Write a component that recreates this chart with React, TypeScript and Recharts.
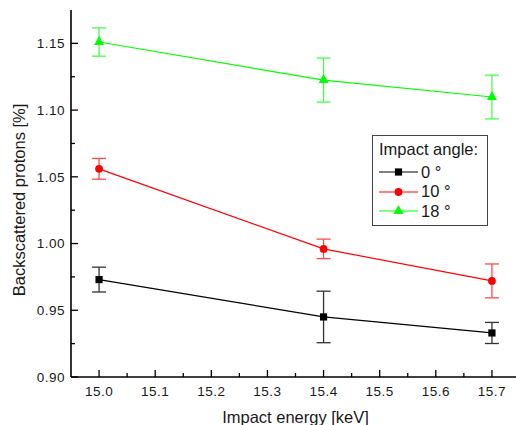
import React from 'react';
import { ComposedChart, Line, XAxis, YAxis, ErrorBar, Legend, Label } from 'recharts';

// Backscattered proton fraction vs. impact energy for three impact angles
const energies = [15.0, 15.4, 15.7];

const angle0 = [0.973, 0.945, 0.933];
const angle0Err = [0.0093, 0.0193, 0.0079];

const angle10 = [1.056, 0.996, 0.972];
const angle10Err = [0.0078, 0.0073, 0.0127];

const angle18 = [1.151, 1.1225, 1.1098];
const angle18Err = [0.0106, 0.0165, 0.0164];

const xMajorTicks = [15.0, 15.1, 15.2, 15.3, 15.4, 15.5, 15.6, 15.7];
const xMinorTicks = [15.05, 15.15, 15.25, 15.35, 15.45, 15.55, 15.65];
const yMajorTicks = [0.9, 0.95, 1.0, 1.05, 1.1, 1.15];
const yMinorTicks = [0.925, 0.975, 1.025, 1.075, 1.125];

const seriesNames = ['0 °', '10 °', '18 °'];
const seriesColors = ['#000000', '#ff0000', '#00ff00'];
const errorColors = ['#333333', '#ff4a4a', '#44ff44'];

const data = energies.map((energy, i) => ({
  energy,
  a0: angle0[i],
  a0Err: angle0Err[i],
  a10: angle10[i],
  a10Err: angle10Err[i],
  a18: angle18[i],
  a18Err: angle18Err[i],
}));

const FONT = '"Liberation Sans", Arial, Helvetica, sans-serif';
const MAJOR_LEN = 7;
const MINOR_LEN = 4;

const isMajor = (v: number, majors: number[]) => majors.some((m) => Math.abs(m - v) < 1e-6);

const tickText = {
  fontFamily: FONT,
  fontSize: 13.5,
  letterSpacing: 0.5,
  fill: '#1a1a1a',
};

const BottomTick = (props: any) => {
  const { x, y, payload } = props;
  const major = isMajor(payload.value, xMajorTicks);
  return (
    <g>
      <line x1={x} y1={y} x2={x} y2={y - (major ? MAJOR_LEN : MINOR_LEN)} stroke="#000" strokeWidth={1.3} />
      {major && (
        <text x={x} y={y + 19} textAnchor="middle" style={tickText}>
          {Number(payload.value).toFixed(1)}
        </text>
      )}
    </g>
  );
};

const TopTick = (props: any) => {
  const { x, y, payload } = props;
  const major = isMajor(payload.value, xMajorTicks);
  return <line x1={x} y1={y} x2={x} y2={y + (major ? MAJOR_LEN : MINOR_LEN)} stroke="#000" strokeWidth={1.3} />;
};

const LeftTick = (props: any) => {
  const { x, y, payload } = props;
  const major = isMajor(payload.value, yMajorTicks);
  return (
    <g>
      <line x1={x} y1={y} x2={x + (major ? MAJOR_LEN : MINOR_LEN)} y2={y} stroke="#000" strokeWidth={1.3} />
      {major && (
        <text x={x - 6} y={y} dy="0.36em" textAnchor="end" style={tickText}>
          {Number(payload.value).toFixed(2)}
        </text>
      )}
    </g>
  );
};

const RightTick = (props: any) => {
  const { x, y, payload } = props;
  const major = isMajor(payload.value, yMajorTicks);
  return <line x1={x} y1={y} x2={x - (major ? MAJOR_LEN : MINOR_LEN)} y2={y} stroke="#000" strokeWidth={1.3} />;
};

const titleStyle = { fontFamily: FONT, fontSize: 16.5, fill: '#1a1a1a' };

const XTitle = (props: any) => {
  const { viewBox } = props;
  const cx = viewBox.x + viewBox.width / 2;
  return (
    <text x={cx} y={viewBox.y + 45.5} textAnchor="middle" style={titleStyle}>
      Impact energy [keV]
    </text>
  );
};

const YTitle = (props: any) => {
  const { viewBox } = props;
  const cx = viewBox.x + 7.7;
  const cy = viewBox.y + viewBox.height / 2 + 6.5;
  return (
    <text
      x={cx}
      y={cy}
      dy="0.36em"
      textAnchor="middle"
      transform={`rotate(-90 ${cx} ${cy})`}
      style={titleStyle}
    >
      Backscattered protons [%]
    </text>
  );
};

const Marker = ({ kind, cx, cy, color }: { kind: number; cx: number; cy: number; color: string }) => {
  if (kind === 0) {
    return <rect x={cx - 3.6} y={cy - 3.6} width={7.2} height={7.2} fill={color} />;
  }
  if (kind === 1) {
    return <circle cx={cx} cy={cy} r={3.9} fill={color} />;
  }
  // triangle with its centroid on the data point
  const h = 9;
  const w = 10;
  return (
    <polygon
      points={`${cx},${cy - (2 * h) / 3} ${cx - w / 2},${cy + h / 3} ${cx + w / 2},${cy + h / 3}`}
      fill={color}
    />
  );
};

const makeDot = (kind: number) => (props: any) => {
  const { cx, cy, index } = props;
  if (cx == null || cy == null) return <g key={`d-${kind}-${index}`} />;
  return (
    <g key={`d-${kind}-${index}`}>
      <Marker kind={kind} cx={cx} cy={cy} color={seriesColors[kind]} />
    </g>
  );
};

const LegendBox = () => (
  <div
    style={{
      boxSizing: 'border-box',
      width: 116,
      height: 91,
      border: '1px solid #444',
      background: '#fff',
      padding: '4px 0 0 6px',
      fontFamily: FONT,
      fontSize: 16.5,
      color: '#1a1a1a',
    }}
  >
    <div style={{ lineHeight: '19px', height: 19, marginBottom: 3.5, whiteSpace: 'nowrap' }}>Impact angle:</div>
    {seriesNames.map((name, i) => (
      <div key={name} style={{ display: 'flex', alignItems: 'center', height: 19.5, whiteSpace: 'nowrap' }}>
        <svg width={40} height={14} style={{ display: 'block' }}>
          <line x1={0} y1={7} x2={39} y2={7} stroke={seriesColors[i]} strokeWidth={1.2} />
          <Marker kind={i} cx={19.5} cy={7} color={seriesColors[i]} />
        </svg>
        <span style={{ marginLeft: 2, lineHeight: '19px' }}>{name}</span>
      </div>
    ))}
  </div>
);

export default function App() {
  const xTicks = [...xMajorTicks, ...xMinorTicks].sort((a, b) => a - b);
  const yTicks = [...yMajorTicks, ...yMinorTicks].sort((a, b) => a - b);
  const xDomain: [number, number] = [14.95, 15.75];
  const yDomain: [number, number] = [0.9, 1.175];

  return (
    <div style={{ position: 'absolute', left: 0, top: 0, width: 516, height: 425, overflow: 'hidden', background: '#fff' }}>
      <ComposedChart width={526} height={425} data={data} margin={{ top: 10, right: 6, bottom: 0, left: 11 }}>
        <XAxis
          xAxisId="bottom"
          dataKey="energy"
          type="number"
          domain={xDomain}
          ticks={xTicks}
          interval={0}
          allowDataOverflow
          height={48}
          tickSize={0}
          tickMargin={0}
          tickLine={false}
          axisLine={{ stroke: '#000', strokeWidth: 1.6 }}
          tick={<BottomTick />}
        >
          <Label content={<XTitle />} />
        </XAxis>
        <XAxis
          xAxisId="top"
          dataKey="energy"
          type="number"
          orientation="top"
          domain={xDomain}
          ticks={xTicks}
          interval={0}
          allowDataOverflow
          height={0}
          tickSize={0}
          tickMargin={0}
          tickLine={false}
          axisLine={{ stroke: '#000', strokeWidth: 1.6 }}
          tick={<TopTick />}
        />
        <YAxis
          yAxisId="left"
          type="number"
          domain={yDomain}
          ticks={yTicks}
          interval={0}
          allowDataOverflow
          width={60}
          tickSize={0}
          tickMargin={0}
          tickLine={false}
          axisLine={{ stroke: '#000', strokeWidth: 1.6 }}
          tick={<LeftTick />}
        >
          <Label content={<YTitle />} />
        </YAxis>
        <YAxis
          yAxisId="right"
          type="number"
          orientation="right"
          domain={yDomain}
          ticks={yTicks}
          interval={0}
          allowDataOverflow
          width={0}
          tickSize={0}
          tickMargin={0}
          tickLine={false}
          axisLine={{ stroke: '#000', strokeWidth: 1.6 }}
          tick={<RightTick />}
        />
        <Legend
          layout="vertical"
          align="center"
          verticalAlign="middle"
          content={<LegendBox />}
          wrapperStyle={{ left: 372, top: 135, width: 116, height: 91 }}
        />
        <Line
          xAxisId="bottom"
          yAxisId="left"
          dataKey="a0"
          name={seriesNames[0]}
          stroke={seriesColors[0]}
          strokeWidth={1.2}
          dot={makeDot(0)}
          activeDot={false}
          isAnimationActive={false}
        >
          <ErrorBar dataKey="a0Err" direction="y" width={7} stroke={errorColors[0]} strokeWidth={1.3} isAnimationActive={false} />
        </Line>
        <Line
          xAxisId="bottom"
          yAxisId="left"
          dataKey="a10"
          name={seriesNames[1]}
          stroke={seriesColors[1]}
          strokeWidth={1.2}
          dot={makeDot(1)}
          activeDot={false}
          isAnimationActive={false}
        >
          <ErrorBar dataKey="a10Err" direction="y" width={7} stroke={errorColors[1]} strokeWidth={1.3} isAnimationActive={false} />
        </Line>
        <Line
          xAxisId="bottom"
          yAxisId="left"
          dataKey="a18"
          name={seriesNames[2]}
          stroke={seriesColors[2]}
          strokeWidth={1.2}
          dot={makeDot(2)}
          activeDot={false}
          isAnimationActive={false}
        >
          <ErrorBar dataKey="a18Err" direction="y" width={7} stroke={errorColors[2]} strokeWidth={1.3} isAnimationActive={false} />
        </Line>
      </ComposedChart>
    </div>
  );
}
